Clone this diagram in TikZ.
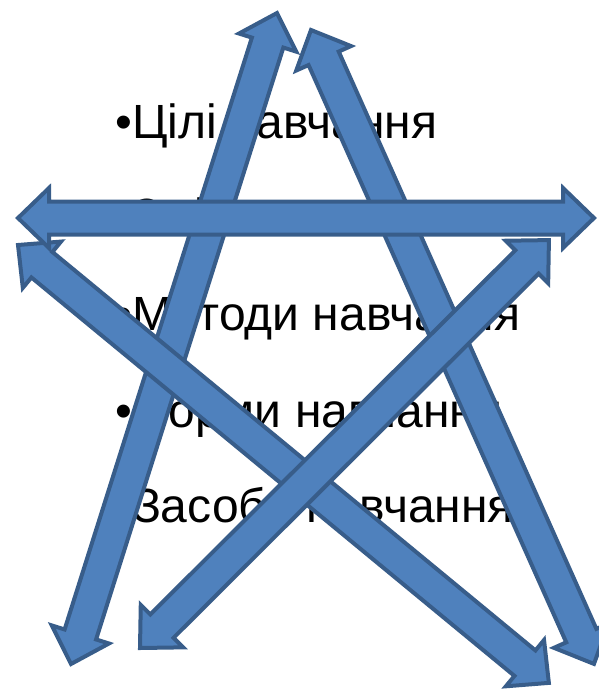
\documentclass[tikz,border=0pt]{standalone}
\usepackage{fontspec}
\setmainfont{Liberation Sans}
\usetikzlibrary{calc}
\definecolor{ArrowFill}{RGB}{79,129,189}
\definecolor{ArrowLine}{RGB}{56,93,138}
\begin{document}
\begin{tikzpicture}[x=1pt,y=-1pt,
      item/.style={anchor=base west,inner sep=0pt,font=\fontsize{48}{58}\selectfont},
      blockarrow/.style={fill=ArrowFill,draw=ArrowLine,line width=4pt,miter limit=4}]
    \useasboundingbox (0,0) rectangle (599,693);
    % list behind the star
    \node[item] (goals)   at (115,138) {•Цілі навчання};
    \node[item] (content) at (115,232) {•Зміст навчання};
    \node[item] (methods) at (115,330) {•Методи навчання};
    \node[item] (forms)   at (115,427) {•Форми навчання};
    \node[item] (means)   at (115,522) {•Засоби навчання};
    % arrow tips
    \coordinate (bl) at (71,664);  \coordinate (bt) at (277,13);
    \coordinate (ct) at (311,30);  \coordinate (cr) at (594,664);
    \coordinate (el) at (18,245);  \coordinate (er) at (549,683);
    \coordinate (dl) at (140,648); \coordinate (dr) at (549,240);
    \coordinate (al) at (18,218);  \coordinate (ar) at (594,218);
    \foreach \a/\b in {bl/bt,ct/cr,el/er,dl/dr,al/ar}
      \draw[blockarrow] let \p1=($(\b)-(\a)$), \n1={veclen(\x1,\y1)}, \n2={atan2(\y1,\x1)} in
        [shift={(\a)},rotate=\n2] (0pt,0pt) -- (31pt,30pt) -- (31pt,16.5pt) -- (\n1-31pt,16.5pt)
        -- (\n1-31pt,30pt) -- (\n1,0pt) -- (\n1-31pt,-30pt) -- (\n1-31pt,-16.5pt)
        -- (31pt,-16.5pt) -- (31pt,-30pt) -- cycle;
  \end{tikzpicture}
\end{document}
